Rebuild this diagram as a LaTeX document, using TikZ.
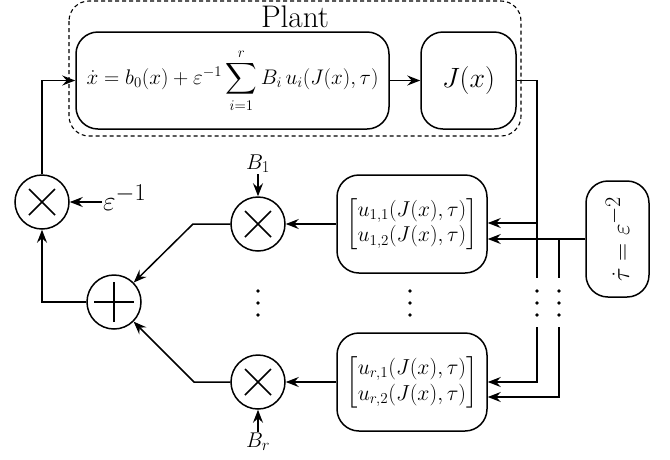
\RequirePackage{fix-cm}
\documentclass[tikz,border=0pt]{standalone}
\usepackage{amsmath}
\usepackage{graphicx}
\usetikzlibrary{arrows.meta,calc}
\newcommand\setfs[1]{\fontsize{#1}{#1}\selectfont}
\DeclareMathSizes{23}{23}{21}{17}
\DeclareMathSizes{26}{26}{23}{18}
\DeclareMathSizes{22}{22}{17}{13}
\tikzset{
  blk/.style={draw, line width=1.5pt, rounded corners=22pt, inner sep=0pt},
  op/.style={draw, circle, line width=1.5pt, minimum size=54pt, inner sep=0pt},
  mult/.style={op, path picture={
    \draw[line width=1.5pt]
      ([shift={(-13pt,-13pt)}]path picture bounding box.center) -- ([shift={(13pt,13pt)}]path picture bounding box.center)
      ([shift={(-13pt,13pt)}]path picture bounding box.center) -- ([shift={(13pt,-13pt)}]path picture bounding box.center);}},
  sumop/.style={op, path picture={
    \draw[line width=1.5pt]
      ([shift={(-20pt,0pt)}]path picture bounding box.center) -- ([shift={(20pt,0pt)}]path picture bounding box.center)
      ([shift={(0pt,-20pt)}]path picture bounding box.center) -- ([shift={(0pt,20pt)}]path picture bounding box.center);}},
  conn/.style={line width=1.5pt, -{Stealth[length=13pt,width=10pt,inset=4.5pt]}},
  ln/.style={line width=1.5pt},
  dotm/.style={fill=black, circle, inner sep=0pt, minimum size=3.6pt},
  lbl/.style={inner sep=1pt}
}
\begin{document}
\begin{tikzpicture}[x=1pt,y=-1pt]
\useasboundingbox (0,0) rectangle (670,459);
% plant frame
\draw[line width=1.1pt, dash pattern=on 4pt off 3pt, rounded corners=20pt] (69,1) rectangle (521,136);
\node[lbl] (plant) at (295,17) {\resizebox{68pt}{!}{\setfs{27}Plant}};
% blocks
\node[blk, minimum width=313pt, minimum height=97pt] (eq) at (232.5,80.5)
  {\resizebox{292pt}{!}{\setfs{20}$\dot{x} = b_0(x) + \varepsilon^{-1}\displaystyle\sum_{i=1}^{r} B_i\, u_i(J(x),\tau)$}};
\node[blk, minimum width=95pt, minimum height=97pt] (J) at (468.5,80.5) {\resizebox{53pt}{!}{\setfs{30}$J(x)$}};
\node[blk, minimum width=150pt, minimum height=98pt] (u1) at (412,224)
  {\resizebox{131pt}{!}{\fontsize{21}{25}\selectfont$\begin{bmatrix} u_{1,1}(J(x),\tau)\\ u_{1,2}(J(x),\tau)\end{bmatrix}$}};
\node[blk, minimum width=150pt, minimum height=98pt] (ur) at (412,382)
  {\resizebox{131pt}{!}{\fontsize{21}{25}\selectfont$\begin{bmatrix} u_{r,1}(J(x),\tau)\\ u_{r,2}(J(x),\tau)\end{bmatrix}$}};
\node[blk, minimum width=63pt, minimum height=116pt] (tau) at (617.5,239)
  {\rotatebox{90}{\resizebox{85pt}{!}{\setfs{26}$\dot{\tau} = \varepsilon^{-2}$}}};
% operators
\node[mult] (me) at (42,202) {};
\node[sumop] (s) at (114,302) {};
\node[mult] (m1) at (258,224) {};
\node[mult] (mr) at (258,382) {};
% labels
\node[lbl] (B1) at (258,164) {\resizebox{24pt}{!}{\setfs{22}$B_1$}};
\node[lbl] (Br) at (258,442) {\resizebox{24pt}{!}{\setfs{22}$B_r$}};
\node[lbl, anchor=west] (epsl) at (102,198) {\resizebox{43pt}{!}{\setfs{26}$\varepsilon^{-1}$}};
% connectors
\draw[conn] (me.north) |- (eq.west);
\draw[conn] (eq) -- (J);
\draw[conn] (s.west) -| (me.south);
\draw[conn] (epsl.west |- me.east) -- (me.east);
\draw[conn] (B1) -- (m1);
\draw[conn] (Br) -- (mr);
\coordinate (k1) at (193,224);
\coordinate (kr) at (194,382);
\draw[conn] (m1.west) -- (k1) -- (s);
\draw[conn] (mr.west) -- (kr) -- (s);
\draw[conn] (u1) -- (m1);
\draw[conn] (ur) -- (mr);
% J output bus
\coordinate (a1) at (537,223);
\coordinate (b1) at (537,278);
\coordinate (b2) at (537,327);
\coordinate (a2) at (537,382);
\draw[ln] (J.east) -| (b1);
\draw[conn] (a1) -- (a1 -| u1.east);
\draw[conn] (b2) -- (a2) -- (a2 -| ur.east);
% tau bus
\coordinate (c0) at (559,239);
\coordinate (c1) at (559,278);
\coordinate (c2) at (559,327);
\coordinate (c3) at (559,397);
\draw[conn] (tau.west) -- (tau.west -| u1.east);
\draw[ln] (c0) -- (c1);
\draw[conn] (c2) -- (c3) -- (c3 -| ur.east);
% vertical dots
\foreach \xx in {258,410,537,559}{
  \foreach \yy in {291,303,315}{
    \node[dotm] at (\xx,\yy) {};
  }
}
\end{tikzpicture}
\end{document}
